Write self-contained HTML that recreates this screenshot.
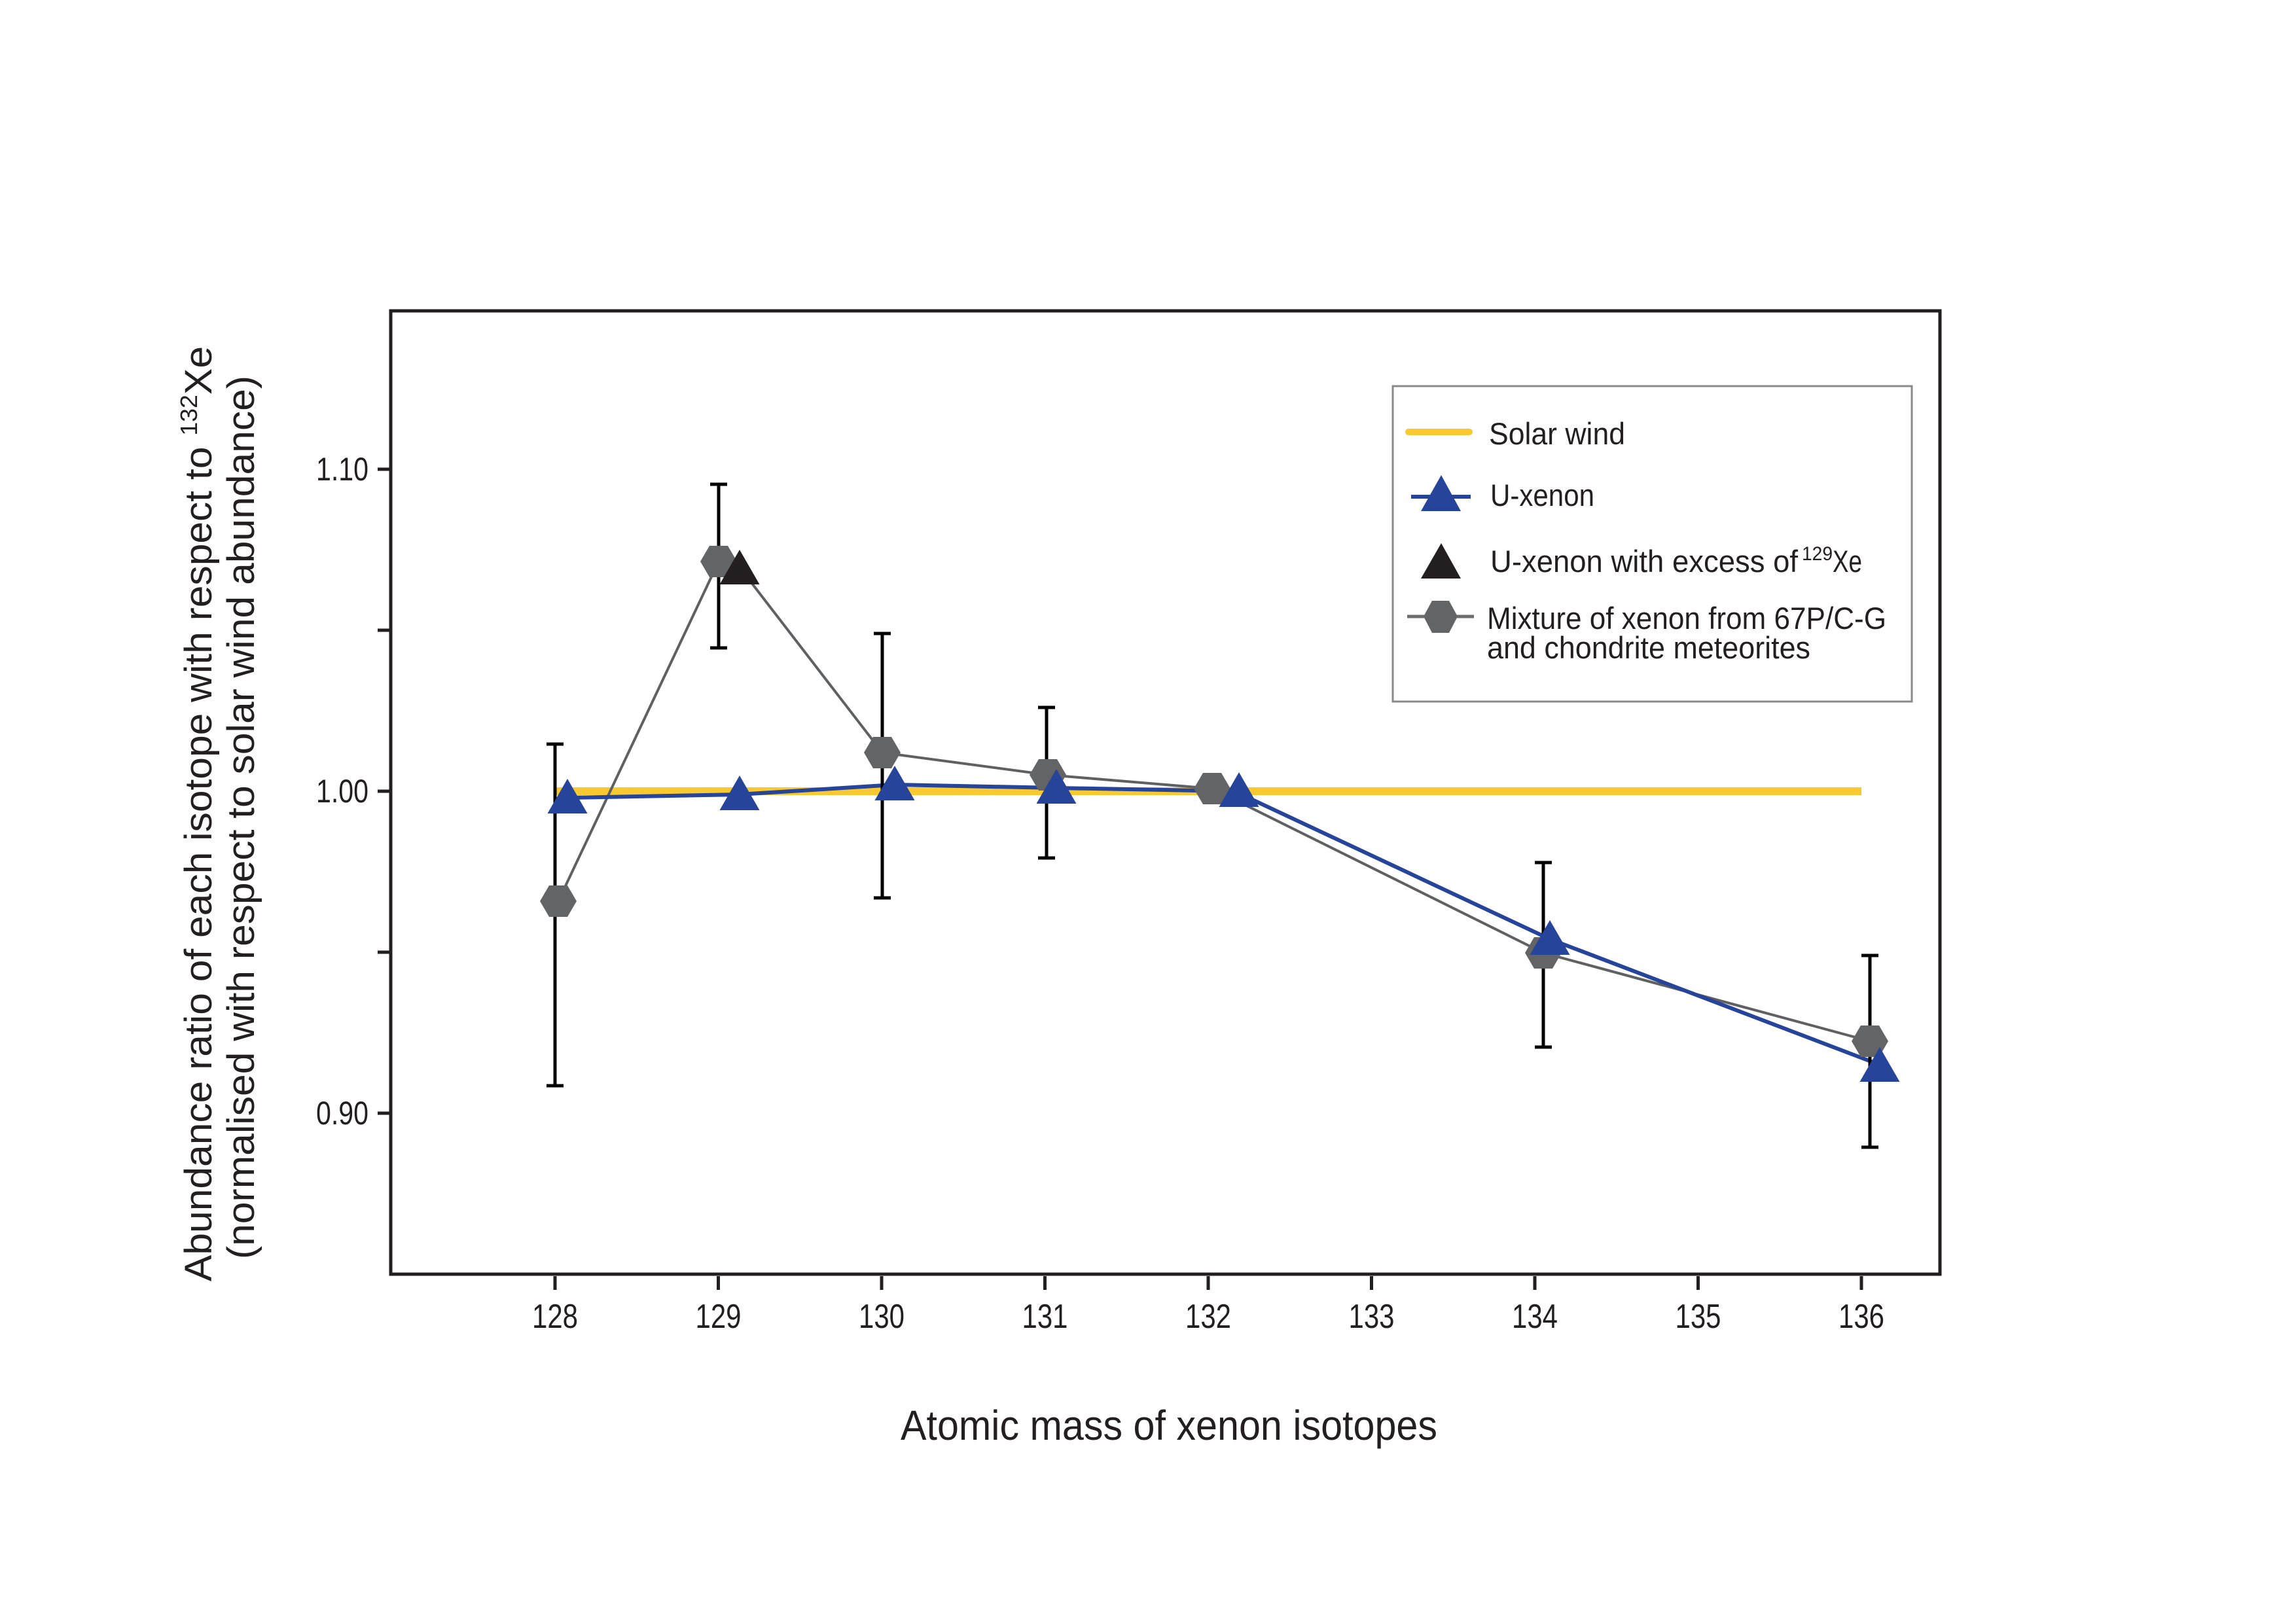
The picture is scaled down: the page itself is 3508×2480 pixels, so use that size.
<!DOCTYPE html>
<html><head><meta charset="utf-8"><style>html,body{margin:0;padding:0;background:#fff}svg{display:block}</style></head>
<body>
<svg width="3508" height="2480" viewBox="0 0 3508 2480" xmlns="http://www.w3.org/2000/svg">
<rect width="3508" height="2480" fill="#fff"/>
<g font-family="'Liberation Sans Narrow','Liberation Sans',sans-serif" fill="#231f20">
<rect x="597" y="475" width="2367" height="1472" fill="none" stroke="#231f20" stroke-width="5"/>
<g stroke="#231f20" stroke-width="5">
<line x1="577" y1="717" x2="597" y2="717"/>
<line x1="577" y1="963" x2="597" y2="963"/>
<line x1="577" y1="1209" x2="597" y2="1209"/>
<line x1="577" y1="1455" x2="597" y2="1455"/>
<line x1="577" y1="1701" x2="597" y2="1701"/>
<line x1="848" y1="1950" x2="848" y2="1971"/>
<line x1="1097.5" y1="1950" x2="1097.5" y2="1971"/>
<line x1="1347" y1="1950" x2="1347" y2="1971"/>
<line x1="1596.5" y1="1950" x2="1596.5" y2="1971"/>
<line x1="1846" y1="1950" x2="1846" y2="1971"/>
<line x1="2095.5" y1="1950" x2="2095.5" y2="1971"/>
<line x1="2345" y1="1950" x2="2345" y2="1971"/>
<line x1="2594.5" y1="1950" x2="2594.5" y2="1971"/>
<line x1="2844" y1="1950" x2="2844" y2="1971"/>
</g>
<g font-size="50" text-anchor="end">
<text x="563" y="734" textLength="80" lengthAdjust="spacingAndGlyphs">1.10</text>
<text x="563" y="1226" textLength="80" lengthAdjust="spacingAndGlyphs">1.00</text>
<text x="563" y="1718" textLength="80" lengthAdjust="spacingAndGlyphs">0.90</text>
</g>
<g font-size="52" text-anchor="middle">
<text x="848" y="2029" textLength="70" lengthAdjust="spacingAndGlyphs">128</text>
<text x="1097.5" y="2029" textLength="70" lengthAdjust="spacingAndGlyphs">129</text>
<text x="1347" y="2029" textLength="70" lengthAdjust="spacingAndGlyphs">130</text>
<text x="1596.5" y="2029" textLength="70" lengthAdjust="spacingAndGlyphs">131</text>
<text x="1846" y="2029" textLength="70" lengthAdjust="spacingAndGlyphs">132</text>
<text x="2095.5" y="2029" textLength="70" lengthAdjust="spacingAndGlyphs">133</text>
<text x="2345" y="2029" textLength="70" lengthAdjust="spacingAndGlyphs">134</text>
<text x="2594.5" y="2029" textLength="70" lengthAdjust="spacingAndGlyphs">135</text>
<text x="2844" y="2029" textLength="70" lengthAdjust="spacingAndGlyphs">136</text>
</g>
<text x="1376" y="2200" font-size="64" textLength="820" lengthAdjust="spacingAndGlyphs">Atomic mass of xenon isotopes</text>
</g>
<g font-family="'Liberation Sans',sans-serif" fill="#231f20" font-size="58">
<text transform="translate(323,1958) rotate(-90)" textLength="1429" lengthAdjust="spacingAndGlyphs">Abundance ratio of each isotope with respect to <tspan font-size="36" dy="-22">132</tspan><tspan dy="22">Xe</tspan></text>
<text transform="translate(388,1924) rotate(-90)" textLength="1350" lengthAdjust="spacingAndGlyphs">(normalised with respect to solar wind abundance)</text>
</g>
<line x1="848" y1="1209" x2="2844" y2="1209" stroke="#f9c932" stroke-width="12"/>
<polyline points="853,1377 1098,858 1130,867 1348,1150 1601,1184 1852,1205 2358,1456 2857,1591" fill="none" stroke="#5f6062" stroke-width="4"/>
<polyline points="867,1219 1130,1214 1367,1199 1614,1204 1886,1209 2368,1435 2872,1627" fill="none" stroke="#26449a" stroke-width="6"/>
<g stroke="#000" stroke-width="5" fill="none">
<path d="M848,1137V1659M835,1137H861M835,1659H861"/>
<path d="M1098,740V990M1085,740H1111M1085,990H1111"/>
<path d="M1348,968V1372M1335,968H1361M1335,1372H1361"/>
<path d="M1599,1081V1311M1586,1081H1612M1586,1311H1612"/>
<path d="M2358,1318V1600M2345,1318H2371M2345,1600H2371"/>
<path d="M2857,1460V1753M2844,1460H2870M2844,1753H2870"/>
</g>
<defs>
<polygon id="hx" points="-28,0 -14,-24 14,-24 28,0 14,24 -14,24" fill="#636466"/>
<polygon id="tr" points="0,-27 30.5,26 -30.5,26"/>
</defs>
<use href="#hx" x="853" y="1377"/>
<use href="#hx" x="1098" y="858"/>
<use href="#tr" x="1130" y="867" fill="#231f20"/>
<use href="#hx" x="1348" y="1150"/>
<use href="#hx" x="1601" y="1184"/>
<use href="#hx" x="1852" y="1205"/>
<use href="#hx" x="2358" y="1456"/>
<use href="#hx" x="2857" y="1591"/>
<g fill="#26449a">
<use href="#tr" x="867" y="1217"/>
<use href="#tr" x="1130" y="1212"/>
<use href="#tr" x="1367" y="1197"/>
<use href="#tr" x="1614" y="1202"/>
<use href="#tr" x="1893" y="1207"/>
<use href="#tr" x="2368" y="1433"/>
<use href="#tr" x="2872" y="1627"/>
</g>
<rect x="2128" y="590" width="793" height="482" fill="#fff" stroke="#8a8a8a" stroke-width="3"/>
<line x1="2152" y1="660" x2="2245" y2="660" stroke="#f9c932" stroke-width="10" stroke-linecap="round"/>
<line x1="2156" y1="759" x2="2247" y2="759" stroke="#26449a" stroke-width="6"/>
<polygon points="2202,726 2232,781 2171,781" fill="#26449a"/>
<polygon points="2202,830 2232,884 2171,884" fill="#231f20"/>
<line x1="2150" y1="942" x2="2252" y2="942" stroke="#6b6b6d" stroke-width="5"/>
<polygon points="2175,942 2188,918 2214,918 2227,942 2214,967 2188,967" fill="#636466"/>
<g font-family="'Liberation Sans Narrow','Liberation Sans',sans-serif" fill="#231f20" font-size="47">
<text x="2275" y="679" textLength="208" lengthAdjust="spacingAndGlyphs">Solar wind</text>
<text x="2277" y="773" textLength="159" lengthAdjust="spacingAndGlyphs">U-xenon</text>
<text x="2277" y="874" textLength="470" lengthAdjust="spacingAndGlyphs">U-xenon with excess of</text>
<text x="2753" y="856" font-size="30" textLength="47" lengthAdjust="spacingAndGlyphs">129</text>
<text x="2800" y="874" textLength="45" lengthAdjust="spacingAndGlyphs">Xe</text>
<text x="2272" y="961" textLength="610" lengthAdjust="spacingAndGlyphs">Mixture of xenon from 67P/C-G</text>
<text x="2272" y="1006" textLength="494" lengthAdjust="spacingAndGlyphs">and chondrite meteorites</text>
</g>
</svg>
</body></html>
